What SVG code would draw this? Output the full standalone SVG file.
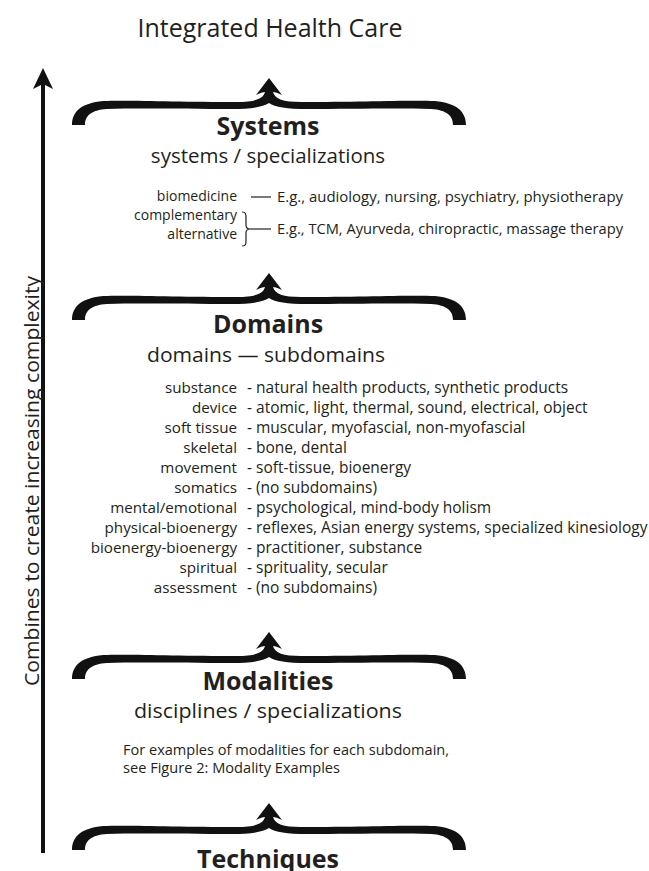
<svg xmlns="http://www.w3.org/2000/svg" xmlns:xlink="http://www.w3.org/1999/xlink" width="649" height="871" viewBox="0 0 649 871">
<style>
text{font-family:"Open Sans","Noto Sans","Liberation Sans",sans-serif;fill:#231f20}
.title{font-size:25px;text-anchor:middle}
.head{font-size:25px;font-weight:bold;text-anchor:middle}
.sub{font-size:20.5px;text-anchor:middle}
.lab{font-size:15.2px;text-anchor:end}
.slab{font-size:14px;text-anchor:end}
.desc{font-size:15.5px}
.sys{font-size:15px}
.note{font-size:15px}
.brace{fill:#111}
.thin{stroke:#231f20;stroke-width:1.2;fill:none}
</style>
<defs>
<path id="brace" class="brace" d="M0,0 L13,17 C9,15 6,14 4,14 C6,21 14,24 32,24 C90,24 140,22 166,23 C187,25 197,33 197,47 L184,47 C184,38 178,32 162,31 C130,30 80,31 38,31 C18,31 6,29 0,25 C-6,29 -18,31 -38,31 C-80,31 -130,30 -162,31 C-178,32 -184,38 -184,47 L-197,47 C-197,33 -187,25 -166,23 C-140,22 -90,24 -32,24 C-14,24 -6,21 -4,14 C-6,14 -9,15 -13,17 Z"/>
</defs>
<rect width="649" height="871" fill="#fff"/>
<g id="title"><text class="title" x="270" y="37">Integrated Health Care</text></g>
<g id="connectors">
<line x1="43" y1="84" x2="43" y2="853" stroke="#111" stroke-width="4"/>
<path d="M43,68 L53,89 L43,84 L33,89 Z" fill="#111"/>
<use xlink:href="#brace" x="269" y="78"/>
<use xlink:href="#brace" x="269" y="273"/>
<use xlink:href="#brace" x="269" y="632"/>
<use xlink:href="#brace" x="269" y="803"/>
</g>
<g id="axis-label"><text transform="translate(39,481) rotate(-90)" style="font-size:20px;text-anchor:middle" textLength="410" lengthAdjust="spacingAndGlyphs">Combines to create increasing complexity</text></g>
<g id="systems">
<text class="head" x="268" y="135">Systems</text>
<text class="sub" x="268" y="163">systems / specializations</text>
<text class="slab" x="237" y="201">biomedicine</text>
<line class="thin" x1="251" y1="197" x2="271" y2="197"/>
<text class="sys" x="277" y="202" textLength="346" lengthAdjust="spacingAndGlyphs">E.g., audiology, nursing, psychiatry, physiotherapy</text>
<text class="slab" x="237" y="220">complementary</text>
<text class="slab" x="237" y="239">alternative</text>
<path class="thin" d="M242,212 C246,212 246,214 246,219 L246,225 C246,228 247,229 250,229 C247,229 246,230 246,233 L246,240 C246,244 246,246 242,246"/>
<line class="thin" x1="250" y1="229" x2="271" y2="229"/>
<text class="sys" x="277" y="234" textLength="346" lengthAdjust="spacingAndGlyphs">E.g., TCM, Ayurveda, chiropractic, massage therapy</text>
</g>
<g id="domains">
<text class="head" x="268" y="333">Domains</text>
<text class="sub" x="266" y="362" textLength="238" lengthAdjust="spacingAndGlyphs">domains — subdomains</text>
<text class="lab" x="237" y="393">substance</text>
<text class="lab" x="237" y="413">device</text>
<text class="lab" x="237" y="433">soft tissue</text>
<text class="lab" x="237" y="453">skeletal</text>
<text class="lab" x="237" y="473">movement</text>
<text class="lab" x="237" y="493">somatics</text>
<text class="lab" x="237" y="513">mental/emotional</text>
<text class="lab" x="237" y="533">physical-bioenergy</text>
<text class="lab" x="237" y="553">bioenergy-bioenergy</text>
<text class="lab" x="237" y="573">spiritual</text>
<text class="lab" x="237" y="593">assessment</text>
<text class="desc" x="247" y="393">- natural health products, synthetic products</text>
<text class="desc" x="247" y="413">- atomic, light, thermal, sound, electrical, object</text>
<text class="desc" x="247" y="433">- muscular, myofascial, non-myofascial</text>
<text class="desc" x="247" y="453">- bone, dental</text>
<text class="desc" x="247" y="473">- soft-tissue, bioenergy</text>
<text class="desc" x="247" y="493">- (no subdomains)</text>
<text class="desc" x="247" y="513">- psychological, mind-body holism</text>
<text class="desc" x="247" y="533">- reflexes, Asian energy systems, specialized kinesiology</text>
<text class="desc" x="247" y="553">- practitioner, substance</text>
<text class="desc" x="247" y="573">- sprituality, secular</text>
<text class="desc" x="247" y="593">- (no subdomains)</text>
</g>
<g id="modalities">
<text class="head" x="268" y="690">Modalities</text>
<text class="sub" x="268" y="718" textLength="268" lengthAdjust="spacingAndGlyphs">disciplines / specializations</text>
<text class="note" x="123" y="755" textLength="326" lengthAdjust="spacingAndGlyphs">For examples of modalities for each subdomain,</text>
<text class="note" x="123" y="773" textLength="217" lengthAdjust="spacingAndGlyphs">see Figure 2: Modality Examples</text>
</g>
<g id="techniques">
<text class="head" x="268" y="868">Techniques</text>
</g>
</svg>
